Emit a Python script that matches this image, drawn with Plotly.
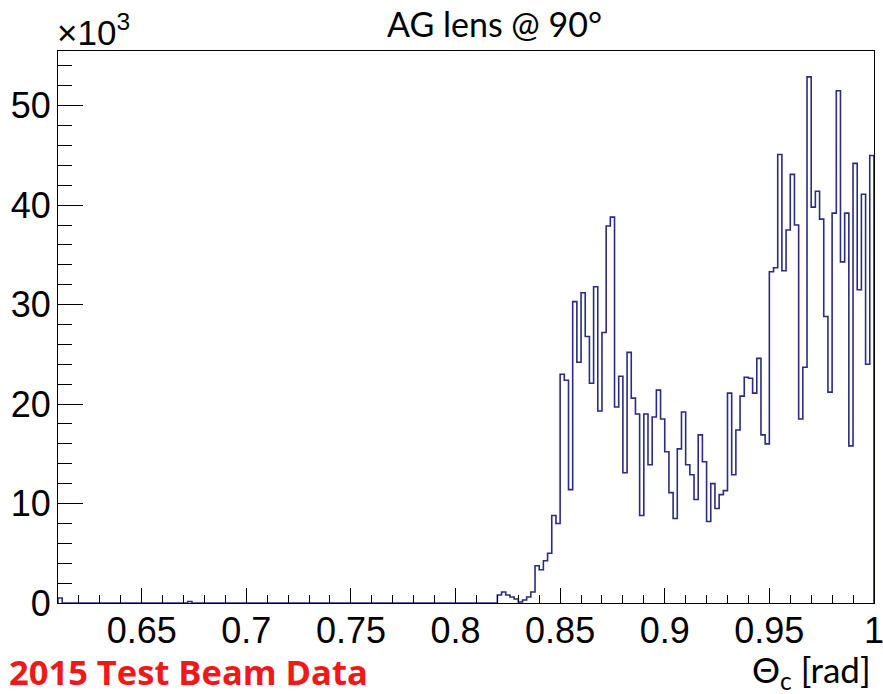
import plotly.graph_objects as go

# Histogram definition (theta_c in rad), counts in units of 10^3
bin_start = 0.61
bin_width = 0.002

# bins 0.610 ... 0.818 (105 bins)
counts_low = [
    0.5, 0, 0, 0, 0, 0, 0, 0, 0, 0, 0, 0, 0, 0, 0,
    0, 0, 0, 0, 0, 0, 0, 0, 0, 0, 0, 0, 0, 0, 0,
    0, 0.15, 0, 0, 0, 0, 0, 0, 0, 0, 0, 0, 0, 0, 0,
    0, 0, 0, 0, 0, 0, 0, 0, 0, 0, 0, 0, 0, 0, 0,
    0, 0, 0, 0, 0, 0, 0, 0, 0, 0, 0, 0, 0, 0, 0,
    0, 0, 0, 0, 0, 0, 0, 0, 0, 0, 0, 0, 0, 0, 0,
    0, 0, 0, 0, 0, 0, 0, 0, 0, 0, 0, 0, 0, 0, 0,
]
# bins 0.820 ... 0.998 (90 bins)
counts_high = [
    0.8, 1.1, 0.8, 0.6, 0.4, 0.1, 0.3, 0.6, 1.1, 3.75,
    3.35, 4.25, 5.0, 8.8, 8.0, 23.0, 22.4, 11.4, 30.3, 24.2,
    31.2, 26.8, 22.1, 31.8, 19.3, 27.2, 37.9, 38.8, 19.7, 22.8,
    13.1, 25.2, 20.6, 19.0, 8.8, 19.0, 13.9, 18.7, 21.4, 18.5,
    15.2, 11.1, 8.5, 15.5, 19.2, 13.9, 12.9, 10.4, 16.9, 14.2,
    8.2, 12.0, 9.5, 10.9, 11.3, 21.1, 12.9, 17.4, 20.8, 22.7,
    22.6, 21.1, 24.6, 16.9, 16.0, 33.3, 33.7, 45.1, 33.4, 37.5,
    43.1, 38.0, 18.5, 23.7, 52.9, 39.8, 41.4, 38.6, 28.8, 21.2,
    39.2, 51.5, 34.3, 39.2, 15.8, 44.2, 31.5, 41.1, 24.0, 45.0,
]
counts = counts_low + counts_high

x_tickvals = [0.65, 0.7, 0.75, 0.8, 0.85, 0.9, 0.95, 1.0]
x_ticktext = ["0.65", "0.7", "0.75", "0.8", "0.85", "0.9", "0.95", "1"]
y_tickvals = [0, 10, 20, 30, 40, 50]
y_ticktext = ["0", "10", "20", "30", "40", "50"]

n = len(counts)
edges = [bin_start + i * bin_width for i in range(n + 1)]

# step outline (ROOT-like histogram)
xs = [edges[0]] + edges[:-1] + [edges[-1], edges[-1]]
ys = [0] + counts + [counts[-1], 0]

fig = go.Figure()
fig.add_trace(go.Scatter(
    x=xs, y=ys, mode="lines", line=dict(shape="hv", color="#2B2B80", width=1.6),
    hoverinfo="skip", showlegend=False,
))

W, H = 883, 694
ml, mr, mt, mb = 58, 9, 51, 91
pw = W - ml - mr
ph = H - mt - mb


def px_x(px):
    return (px - ml) / pw


def px_y(py):
    return (H - mb - py) / ph


tick_font = dict(family="Liberation Sans, Arial, sans-serif", size=36, color="black")

fig.update_layout(
    width=W, height=H,
    margin=dict(l=ml, r=mr, t=mt, b=mb, autoexpand=False),
    paper_bgcolor="white", plot_bgcolor="white",
    xaxis=dict(
        range=[0.61, 1.00002], showgrid=False, zeroline=False, automargin=False,
        showline=True, linecolor="black", linewidth=1, mirror=True,
        tickmode="array", tickvals=x_tickvals, ticktext=x_ticktext,
        ticks="inside", ticklen=15, tickwidth=1, tickcolor="black",
        minor=dict(ticks="inside", ticklen=8, tickwidth=1, tickcolor="black",
                   dtick=0.01, tick0=0.6, showgrid=False),
        tickfont=tick_font, ticklabelstandoff=-4, ticklabeloverflow="allow",
    ),
    yaxis=dict(
        range=[0, 55.5], showgrid=False, zeroline=False, automargin=False,
        showline=True, linecolor="black", linewidth=1, mirror=True,
        tickmode="array", tickvals=y_tickvals, ticktext=y_ticktext,
        ticks="inside", ticklen=25, tickwidth=1, tickcolor="black",
        minor=dict(ticks="inside", ticklen=14, tickwidth=1, tickcolor="black",
                   dtick=2, tick0=0, showgrid=False),
        tickfont=tick_font, ticklabelstandoff=-1,
    ),
    annotations=[
        dict(text="AG lens @ 90°", x=px_x(494), y=px_y(24), xref="paper", yref="paper",
             xanchor="center", yanchor="middle", showarrow=False,
             font=dict(family="Lato, sans-serif", size=34, color="black")),
        dict(text="×10<sup>3</sup>", x=px_x(55), y=px_y(30), xref="paper", yref="paper",
             xanchor="left", yanchor="middle", showarrow=False,
             font=dict(family="Liberation Sans, Arial, sans-serif", size=35, color="black")),
        dict(text="<b>2015 Test Beam Data</b>", x=px_x(7), y=px_y(671), xref="paper", yref="paper",
             xanchor="left", yanchor="middle", showarrow=False,
             font=dict(family="Open Sans, sans-serif", size=34.5, color="#F01818")),
        dict(text="Θ<sub>c</sub> [rad]", x=px_x(873), y=px_y(671), xref="paper", yref="paper",
             xanchor="right", yanchor="middle", showarrow=False,
             font=dict(family="Lato, sans-serif", size=35, color="black")),
    ],
)

fig.write_html("out.html")
